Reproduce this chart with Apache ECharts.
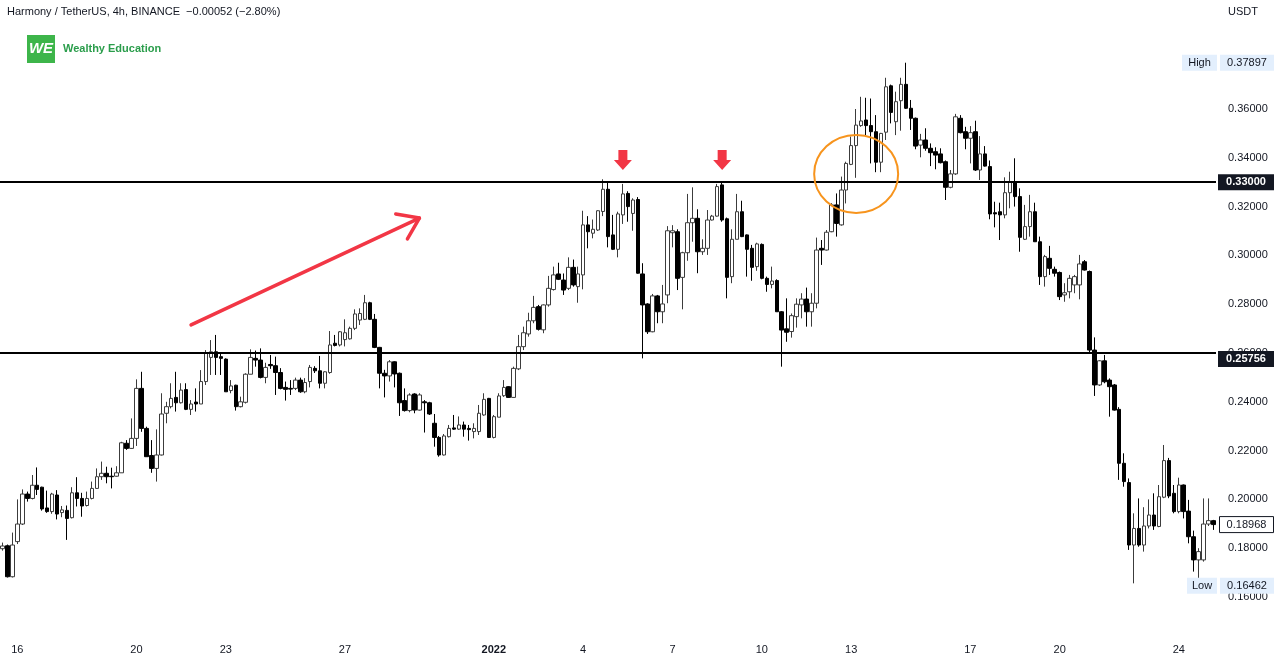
<!DOCTYPE html>
<html><head><meta charset="utf-8">
<script src="https://cdn.jsdelivr.net/npm/echarts@6/dist/echarts.min.js"></script>
<style>html,body{margin:0;padding:0;background:#fff}#c{width:1280px;height:661px}</style>
</head><body><div id="c"></div>
<script>
// ---- data ----
const startUTC = Date.UTC(2021, 11, 15, 12); // first 4h candle
const stepHours = 4;
// [open, close, low, high]
const ohlc = [
[0.1798,0.1809,0.1790,0.1823],[0.1810,0.1683,0.1680,0.1815],[0.1683,0.1813,0.1680,0.1864],[0.1827,0.1899,0.1817,0.2000],
[0.1899,0.2022,0.1895,0.2041],[0.2022,0.2004,0.1991,0.2032],[0.2004,0.2058,0.2000,0.2100],[0.2058,0.2041,0.2018,0.2131],
[0.2050,0.1961,0.1954,0.2052],[0.1965,0.1950,0.1945,0.2036],[0.1950,0.2022,0.1941,0.2027],[0.2018,0.1940,0.1918,0.2038],
[0.1946,0.1957,0.1927,0.1973],[0.1955,0.1922,0.1834,0.1975],[0.1925,0.2027,0.1922,0.2050],[0.2027,0.2004,0.1971,0.2091],
[0.2004,0.1973,0.1929,0.2027],[0.1975,0.2004,0.1971,0.2032],[0.2004,0.2045,0.2000,0.2073],[0.2045,0.2093,0.2043,0.2127],
[0.2093,0.2107,0.2080,0.2155],[0.2107,0.2093,0.2066,0.2134],[0.2095,0.2093,0.2045,0.2130],[0.2095,0.2109,0.2093,0.2136],
[0.2109,0.2232,0.2109,0.2236],[0.2230,0.2209,0.2203,0.2243],[0.2209,0.2250,0.2207,0.2332],[0.2250,0.2455,0.2219,0.2492],
[0.2455,0.2291,0.2277,0.2523],[0.2291,0.2175,0.2175,0.2298],[0.2180,0.2127,0.2109,0.2243],[0.2127,0.2182,0.2073,0.2287],
[0.2182,0.2350,0.2180,0.2435],[0.2353,0.2380,0.2312,0.2400],[0.2380,0.2414,0.2373,0.2476],[0.2418,0.2396,0.2360,0.2523],
[0.2396,0.2448,0.2393,0.2476],[0.2450,0.2369,0.2366,0.2476],[0.2369,0.2391,0.2346,0.2407],[0.2399,0.2391,0.2360,0.2455],
[0.2391,0.2483,0.2391,0.2530],[0.2483,0.2601,0.2469,0.2612],[0.2582,0.2605,0.2510,0.2653],[0.2605,0.2582,0.2510,0.2674],
[0.2585,0.2578,0.2510,0.2601],[0.2575,0.2441,0.2441,0.2578],[0.2446,0.2465,0.2435,0.2489],[0.2468,0.2380,0.2364,0.2470],
[0.2380,0.2400,0.2377,0.2421],[0.2398,0.2513,0.2393,0.2517],[0.2513,0.2582,0.2513,0.2615],[0.2578,0.2571,0.2544,0.2610],
[0.2571,0.2500,0.2496,0.2619],[0.2500,0.2541,0.2476,0.2560],[0.2553,0.2548,0.2535,0.2592],[0.2548,0.2520,0.2428,0.2585],
[0.2520,0.2455,0.2451,0.2538],[0.2459,0.2451,0.2405,0.2483],[0.2455,0.2452,0.2428,0.2489],[0.2455,0.2489,0.2448,0.2499],
[0.2489,0.2441,0.2437,0.2499],[0.2441,0.2479,0.2435,0.2497],[0.2483,0.2541,0.2459,0.2551],[0.2537,0.2527,0.2518,0.2546],
[0.2527,0.2476,0.2455,0.2588],[0.2476,0.2523,0.2455,0.2525],[0.2520,0.2633,0.2515,0.2690],[0.2640,0.2631,0.2627,0.2674],
[0.2633,0.2687,0.2627,0.2690],[0.2655,0.2683,0.2627,0.2738],[0.2658,0.2701,0.2655,0.2708],[0.2701,0.2760,0.2694,0.2779],
[0.2735,0.2762,0.2715,0.2783],[0.2738,0.2806,0.2735,0.2838],[0.2806,0.2738,0.2735,0.2810],[0.2738,0.2623,0.2620,0.2760],
[0.2623,0.2517,0.2455,0.2625],[0.2517,0.2506,0.2418,0.2531],[0.2506,0.2564,0.2483,0.2571],[0.2564,0.2514,0.2459,0.2566],
[0.2517,0.2396,0.2342,0.2520],[0.2405,0.2364,0.2360,0.2455],[0.2364,0.2428,0.2357,0.2435],[0.2432,0.2366,0.2353,0.2435],
[0.2366,0.2428,0.2364,0.2435],[0.2400,0.2396,0.2274,0.2407],[0.2396,0.2350,0.2346,0.2400],[0.2312,0.2254,0.2216,0.2350],
[0.2254,0.2182,0.2175,0.2260],[0.2182,0.2260,0.2180,0.2268],[0.2257,0.2291,0.2254,0.2305],[0.2293,0.2288,0.2285,0.2346],
[0.2288,0.2305,0.2285,0.2340],[0.2305,0.2288,0.2257,0.2319],[0.2291,0.2286,0.2241,0.2305],[0.2278,0.2291,0.2250,0.2312],
[0.2278,0.2353,0.2264,0.2387],[0.2346,0.2410,0.2343,0.2435],[0.2414,0.2254,0.2252,0.2416],[0.2254,0.2339,0.2250,0.2346],
[0.2337,0.2424,0.2337,0.2435],[0.2425,0.2459,0.2420,0.2489],[0.2462,0.2418,0.2416,0.2464],[0.2418,0.2537,0.2416,0.2544],
[0.2535,0.2626,0.2530,0.2674],[0.2626,0.2683,0.2612,0.2708],[0.2678,0.2732,0.2667,0.2765],[0.2732,0.2787,0.2722,0.2834],
[0.2790,0.2697,0.2692,0.2797],[0.2695,0.2797,0.2681,0.2799],[0.2797,0.2865,0.2790,0.2916],[0.2860,0.2920,0.2856,0.2954],
[0.2924,0.2902,0.2899,0.2970],[0.2899,0.2858,0.2838,0.2926],[0.2865,0.2951,0.2858,0.2992],[0.2951,0.2879,0.2872,0.2983],
[0.2872,0.2924,0.2806,0.2954],[0.2920,0.3125,0.2861,0.3183],[0.3125,0.3097,0.3029,0.3161],[0.3091,0.3107,0.3070,0.3147],
[0.3104,0.3183,0.3100,0.3185],[0.3180,0.3271,0.3161,0.3312],[0.3271,0.3077,0.3033,0.3303],[0.3084,0.3025,0.3022,0.3166],
[0.3025,0.3170,0.2992,0.3179],[0.3166,0.3252,0.3129,0.3293],[0.3254,0.3200,0.3138,0.3263],[0.3172,0.3227,0.3101,0.3234],
[0.3229,0.2927,0.2925,0.3239],[0.2924,0.2797,0.2578,0.2968],[0.2801,0.2687,0.2678,0.2804],[0.2687,0.2834,0.2685,0.2842],
[0.2834,0.2769,0.2722,0.2838],[0.2769,0.2801,0.2722,0.2879],[0.2838,0.3101,0.2804,0.3120],[0.3093,0.3101,0.3033,0.3124],
[0.3097,0.2906,0.2858,0.3107],[0.2910,0.3011,0.2779,0.3015],[0.3011,0.3134,0.2978,0.3252],[0.3134,0.3152,0.3056,0.3279],
[0.3152,0.3015,0.2927,0.3189],[0.3015,0.3029,0.3002,0.3066],[0.3029,0.3145,0.3002,0.3186],[0.3145,0.3161,0.3143,0.3166],
[0.3161,0.3282,0.3159,0.3293],[0.3289,0.3145,0.3138,0.3298],[0.3150,0.2910,0.2824,0.3155],[0.2913,0.3066,0.2886,0.3107],
[0.3066,0.3179,0.3066,0.3252],[0.3179,0.3077,0.3075,0.3224],[0.3084,0.3025,0.2913,0.3086],[0.3029,0.2951,0.2896,0.3043],
[0.2954,0.3047,0.2937,0.3052],[0.3045,0.2906,0.2902,0.3049],[0.2906,0.2881,0.2851,0.2913],[0.2881,0.2895,0.2865,0.2954],
[0.2897,0.2769,0.2769,0.2902],[0.2769,0.2694,0.2544,0.2772],[0.2699,0.2685,0.2646,0.2824],[0.2688,0.2753,0.2663,0.2762],
[0.2749,0.2800,0.2704,0.2824],[0.2797,0.2821,0.2742,0.2845],[0.2821,0.2769,0.2708,0.2868],[0.2769,0.2804,0.2708,0.2845],
[0.2804,0.3022,0.2783,0.3073],[0.3029,0.3022,0.2961,0.3063],[0.3022,0.3095,0.3020,0.3104],[0.3097,0.3207,0.3095,0.3214],
[0.3207,0.3131,0.3077,0.3254],[0.3125,0.3268,0.3122,0.3323],[0.3268,0.3377,0.3213,0.3384],[0.3373,0.3450,0.3370,0.3487],
[0.3450,0.3534,0.3318,0.3600],[0.3532,0.3551,0.3527,0.3650],[0.3555,0.3532,0.3493,0.3646],[0.3532,0.3507,0.3377,0.3643],
[0.3507,0.3382,0.3341,0.3575],[0.3382,0.3500,0.3341,0.3502],[0.3505,0.3691,0.3473,0.3728],[0.3695,0.3586,0.3541,0.3700],
[0.3548,0.3630,0.3493,0.3671],[0.3634,0.3701,0.3511,0.3728],[0.3701,0.3603,0.3600,0.37897],[0.3603,0.3562,0.3514,0.3637],
[0.3562,0.3448,0.3435,0.3565],[0.3452,0.3473,0.3402,0.3498],[0.3473,0.3439,0.3429,0.3521],[0.3439,0.3421,0.3366,0.3459],
[0.3425,0.3411,0.3353,0.3443],[0.3416,0.3380,0.3377,0.3439],[0.3384,0.3279,0.3227,0.3389],[0.3279,0.3334,0.3275,0.3350],
[0.3334,0.3568,0.3330,0.3580],[0.3562,0.3503,0.3500,0.3575],[0.3507,0.3480,0.3435,0.3527],[0.3480,0.3503,0.3377,0.3530],
[0.3507,0.3350,0.3346,0.3552],[0.3350,0.3416,0.3309,0.3489],[0.3416,0.3366,0.3364,0.3448],[0.3364,0.3170,0.3148,0.3389],
[0.3175,0.3170,0.3115,0.3220],[0.3179,0.3166,0.3063,0.3216],[0.3166,0.3257,0.3152,0.3320],[0.3257,0.3302,0.3193,0.3343],
[0.3302,0.3241,0.3200,0.3398],[0.3241,0.3074,0.3015,0.3275],[0.3066,0.3118,0.3063,0.3207],[0.3118,0.3179,0.3077,0.3248],
[0.3179,0.3056,0.3056,0.3216],[0.3056,0.2913,0.2879,0.3077],[0.2913,0.2995,0.2872,0.3002],[0.2988,0.2947,0.2920,0.3039],
[0.2943,0.2927,0.2913,0.2954],[0.2930,0.2831,0.2817,0.2934],[0.2838,0.2847,0.2810,0.2886],[0.2851,0.2906,0.2824,0.2920],
[0.2879,0.2913,0.2845,0.2920],[0.2879,0.2965,0.2820,0.3002],[0.2974,0.2940,0.2938,0.2981],[0.2934,0.2612,0.2599,0.2938],
[0.2612,0.2469,0.2424,0.2664],[0.2469,0.2568,0.2465,0.2571],[0.2568,0.2482,0.2476,0.2592],[0.2489,0.2462,0.2339,0.2496],
[0.2469,0.2366,0.2364,0.2473],[0.2369,0.2148,0.2080,0.2378],[0.2148,0.2073,0.2052,0.2189],[0.2069,0.1813,0.1793,0.2086],
[0.1813,0.1881,0.1656,0.1943],[0.1881,0.1813,0.1806,0.2004],[0.1813,0.1891,0.1786,0.1968],[0.1891,0.1936,0.1881,0.2000],
[0.1936,0.1891,0.1875,0.2025],[0.1889,0.2011,0.1886,0.2059],[0.2009,0.2159,0.2005,0.2223],[0.2159,0.2014,0.2005,0.2170],
[0.2025,0.1950,0.1943,0.2059],[0.1950,0.2059,0.1943,0.2089],[0.2059,0.1950,0.1922,0.2061],[0.1952,0.1847,0.1820,0.1998],
[0.1847,0.1752,0.1704,0.1872],[0.1752,0.1786,0.16462,0.1800],[0.1752,0.1899,0.1745,0.2004],[0.1899,0.1913,0.1891,0.2004],
[0.1913,0.18968,0.1875,0.1916]
];
const tickDates = ['2021-12-16','2021-12-20','2021-12-23','2021-12-27','2022-01-01','2022-01-04','2022-01-07','2022-01-10','2022-01-13','2022-01-17','2022-01-20','2022-01-24'];
const tickLabels = ['16','20','23','27','2022','4','7','10','13','17','20','24'];
const levelLines = [0.33, 0.25756];
const highValue = 0.37897, lowValue = 0.16462, lastValue = 0.18968;
const titleText = 'Harmony / TetherUS, 4h, BINANCE  \u22120.00052 (\u22122.80%)';
// annotations in data space: [category index, price]
const trendArrow = [[37.8, 0.2715], [83.7, 0.3153]];
const topArrows = [[125, 0.3350], [145, 0.3350]];
const circleCenter = [171.6, 0.3334];

// ---- build ----
const pad = n => (n < 10 ? '0' : '') + n;
const categories = ohlc.map((_, i) => {
  const d = new Date(startUTC + i * stepHours * 3600e3);
  return d.getUTCFullYear() + '-' + pad(d.getUTCMonth() + 1) + '-' + pad(d.getUTCDate()) + ' ' + pad(d.getUTCHours()) + ':00';
});
const tickMap = {};
tickDates.forEach((d, k) => { tickMap[d + ' 00:00'] = tickLabels[k]; });

const FONT = 'Liberation Sans';
const TXT = '#131722';
const chart = echarts.init(document.getElementById('c'));
chart.setOption({
  animation: false,
  backgroundColor: '#ffffff',
  textStyle: { fontFamily: FONT },
  grid: { left: 0, right: 64, top: 11.4, bottom: 15.2 },
  xAxis: {
    type: 'category', data: categories, boundaryGap: true,
    axisLine: { show: false }, axisTick: { show: false }, splitLine: { show: false },
    axisLabel: {
      interval: (i, v) => tickMap[v] !== undefined,
      formatter: v => tickMap[v] === '2022' ? '{b|2022}' : (tickMap[v] || ''),
      rich: { b: { fontWeight: 'bold', fontSize: 11, color: TXT, fontFamily: FONT } },
      color: TXT, fontSize: 11, margin: -1, fontFamily: FONT
    }
  },
  yAxis: {
    type: 'value', position: 'right', min: 0.14, max: 0.40, interval: 0.02,
    axisLine: { show: false }, axisTick: { show: false }, splitLine: { show: false },
    axisLabel: {
      margin: 12, color: TXT, fontSize: 11, fontFamily: FONT,
      formatter: v => (v < 0.155 || v > 0.385) ? '' : v.toFixed(5)
    }
  },
  series: [{
    type: 'candlestick', data: ohlc, barWidth: 4,
    itemStyle: { color: '#ffffff', color0: '#000000', borderColor: '#3c3c3c', borderColor0: '#000000', borderWidth: 1 },
    markLine: {
      symbol: 'none', silent: true, label: { show: false },
      lineStyle: { color: '#000000', width: 2, type: 'solid' },
      data: levelLines.map(v => ({ yAxis: v }))
    }
  }]
});

const px = p => chart.convertToPixel({ gridIndex: 0 }, p);
const yOf = v => chart.convertToPixel({ yAxisIndex: 0 }, v);
const g = [];
// header
g.push({ type: 'text', x: 7, y: 12, style: { text: titleText, font: '11px ' + FONT, fill: TXT, textVerticalAlign: 'middle' } });
g.push({ type: 'rect', shape: { x: 27, y: 35, width: 28, height: 28 }, style: { fill: '#3db54a' } });
g.push({ type: 'text', x: 41, y: 49, style: { text: 'WE', font: 'italic bold 15px ' + FONT, fill: '#ffffff', textAlign: 'center', textVerticalAlign: 'middle' } });
g.push({ type: 'text', x: 63, y: 49, style: { text: 'Wealthy Education', font: 'bold 11px ' + FONT, fill: '#2a9d4b', textVerticalAlign: 'middle' } });
g.push({ type: 'text', x: 1228, y: 12, style: { text: 'USDT', font: '11px ' + FONT, fill: TXT, textVerticalAlign: 'middle' } });

// right side price boxes
function box(x, y, w, txt, fill, color, bold, stroke) {
  g.push({ type: 'rect', z: 100, shape: { x: x, y: y - 8, width: w, height: 16 }, style: { fill: fill, stroke: stroke || null, lineWidth: stroke ? 1 : 0 } });
  g.push({ type: 'text', z: 101, x: x + w / 2, y: y, style: { text: txt, font: (bold ? 'bold ' : '') + '11px ' + FONT, fill: color, textAlign: 'center', textVerticalAlign: 'middle' } });
}
levelLines.forEach(v => box(1218, yOf(v), 56, v.toFixed(5), '#131722', '#ffffff', true));
box(1219.5, yOf(lastValue), 54, lastValue.toFixed(5), '#ffffff', TXT, false, '#131722');
box(1182, yOf(highValue), 35, 'High', '#e3effd', TXT, false);
box(1220, yOf(highValue), 54, highValue.toFixed(5), '#e3effd', TXT, false);
box(1187, yOf(lowValue), 30, 'Low', '#e3effd', TXT, false);
box(1220, yOf(lowValue), 54, lowValue.toFixed(5), '#e3effd', TXT, false);

// red trend arrow
const a0 = px(trendArrow[0]), a1 = px(trendArrow[1]);
const dx = a1[0] - a0[0], dy = a1[1] - a0[1], L = Math.hypot(dx, dy);
const ux = -dx / L, uy = -dy / L, ang = 35 * Math.PI / 180, al = 24;
const w1 = [a1[0] + al * (ux * Math.cos(ang) - uy * Math.sin(ang)), a1[1] + al * (ux * Math.sin(ang) + uy * Math.cos(ang))];
const w2 = [a1[0] + al * (ux * Math.cos(-ang) - uy * Math.sin(-ang)), a1[1] + al * (ux * Math.sin(-ang) + uy * Math.cos(-ang))];
g.push({ type: 'line', z: 50, shape: { x1: a0[0], y1: a0[1], x2: a1[0], y2: a1[1] }, style: { stroke: '#f23645', lineWidth: 3.5, lineCap: 'round' } });
g.push({ type: 'polyline', z: 50, shape: { points: [w1, a1, w2] }, style: { stroke: '#f23645', lineWidth: 3.5, lineCap: 'round', lineJoin: 'round', fill: null } });

// red down arrows
topArrows.forEach(p => {
  const t = px(p);
  const x = t[0], y = t[1];
  g.push({ type: 'polygon', z: 50, shape: { points: [[x - 4.5, y - 20], [x + 4.5, y - 20], [x + 4.5, y - 10], [x + 9, y - 10], [x, y], [x - 9, y - 10], [x - 4.5, y - 10]] }, style: { fill: '#f23645' } });
});

// orange circle
const cc = px(circleCenter);
g.push({ type: 'ellipse', z: 50, shape: { cx: cc[0], cy: cc[1], rx: 42, ry: 39 }, style: { stroke: '#f7941d', lineWidth: 2, fill: null } });

chart.setOption({ graphic: g });
</script>
</body></html>
